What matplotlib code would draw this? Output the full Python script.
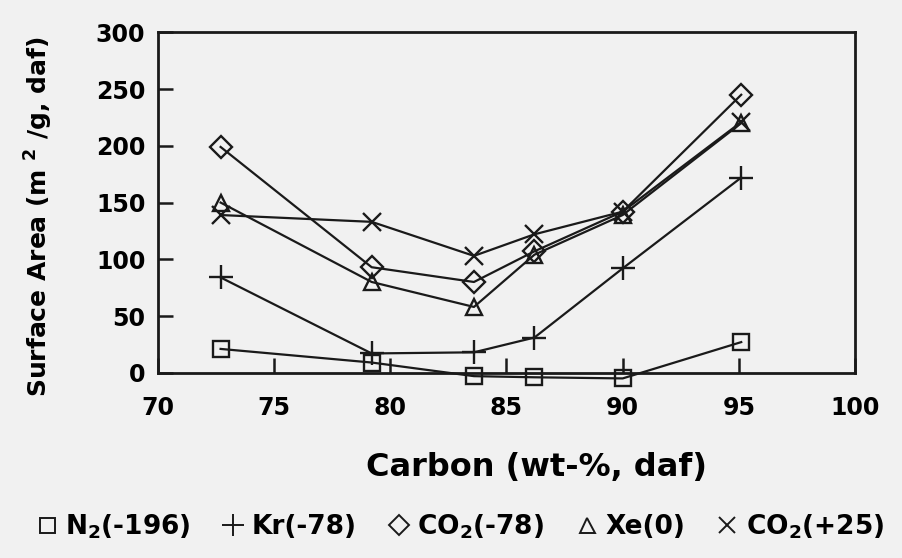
import matplotlib.pyplot as plt
from matplotlib.lines import Line2D

plt.rcParams['font.family'] = ['DejaVu Sans']
plt.rcParams['font.weight'] = 'bold'
plt.rcParams['mathtext.fontset'] = 'custom'
plt.rcParams['mathtext.rm'] = 'DejaVu Sans:bold'
plt.rcParams['mathtext.bf'] = 'DejaVu Sans:bold'

carbon = [72.7, 79.2, 83.6, 86.2, 90.0, 95.1]
n2 = [21, 9, -3, -4, -5, 27]
kr = [84, 17, 18, 31, 92, 172]
co2_78 = [199, 93, 80, 107, 142, 245]
xe = [150, 80, 58, 104, 139, 220]
co2_25 = [139, 133, 103, 122, 142, 221]

labels = [r'N$_\mathbf{2}$(-196)', 'Kr(-78)', r'CO$_\mathbf{2}$(-78)', 'Xe(0)', r'CO$_\mathbf{2}$(+25)']

bg = '#f1f1f1'
fig = plt.figure(figsize=(9.02, 5.58), dpi=100, facecolor=bg)
ax = fig.add_axes([0.175, 0.332, 0.773, 0.610], facecolor=bg)

series = [(n2, 's', 12), (kr, '+', 17), (co2_78, 'D', 11), (xe, '^', 12), (co2_25, 'x', 13)]
for vals, mk, ms in series:
    ax.plot(carbon, vals, color='#1a1a1a', lw=1.6, marker=mk, ms=ms, mfc='none',
            mec='#1a1a1a', mew=1.7, clip_on=False, zorder=3)

ax.set_xlim(70, 100)
ax.set_ylim(0, 300)
ax.set_xticks([70, 75, 80, 85, 90, 95, 100])
ax.set_yticks([0, 50, 100, 150, 200, 250, 300])
ax.tick_params(direction='in', length=11, width=1.8, labelsize=17, color='#1a1a1a')
ax.tick_params(axis='x', pad=17)
ax.tick_params(axis='y', pad=9)
for s in ax.spines.values():
    s.set_linewidth(2)
    s.set_color('#1a1a1a')

ax.set_xlabel('Carbon (wt-%, daf)', fontsize=23, fontweight='bold')
ax.xaxis.set_label_coords(0.543, -0.232)
ax.set_ylabel(r'Surface Area (m $^\mathbf{2}$ /g, daf)', fontsize=18, fontweight='bold')
ax.yaxis.set_label_coords(-0.148, 0.46)

handles = []
for (vals, mk, ms), lab in zip(series, labels):
    handles.append(Line2D([], [], ls='none', marker=mk, ms=ms * 0.9, mfc='none',
                          mec='#1a1a1a', mew=1.4, label=lab))
fig.legend(handles=handles, loc='lower center', bbox_to_anchor=(0.51, -0.012), ncol=5,
           frameon=False, fontsize=19, handlelength=0.8, handletextpad=0.3,
           columnspacing=1.2)

fig.savefig('out.png', dpi=100, facecolor=bg)
